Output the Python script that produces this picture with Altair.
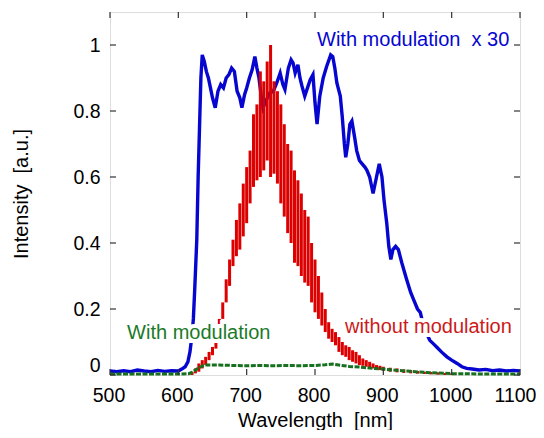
import altair as alt
import pandas as pd

# ---- data ----
BLUE_WL = [500, 510, 520, 530, 540, 550, 560, 570, 580, 590, 600, 605, 610, 614, 617, 620, 622, 624, 627, 629,
           631, 633, 635, 638, 641, 644, 647, 650, 654, 658, 662, 666, 670, 674, 678, 682, 686, 690, 693, 697,
           700, 704, 708, 712, 715, 718, 721, 724, 728, 734, 739, 744, 749, 753, 756, 761, 765, 768, 771, 775,
           778, 781, 785, 789, 793, 797, 800, 803, 807, 812, 817, 823, 826, 829, 832, 837, 840, 843, 845, 848,
           851, 854, 858, 861, 865, 869, 873, 876, 880, 885, 890, 894, 898, 901, 905, 908, 911, 914, 918, 922,
           927, 934, 940, 944, 950, 954, 960, 968, 973, 978, 985, 993, 1000, 1008, 1015, 1022, 1030, 1040, 1050,
           1060, 1070, 1080, 1090, 1100]
BLUE_I = [0.012, 0.010, 0.013, 0.010, 0.015, 0.012, 0.010, 0.014, 0.011, 0.013, 0.012, 0.018, 0.025, 0.040, 0.070,
          0.120, 0.170, 0.260, 0.410, 0.600, 0.750, 0.900, 0.970, 0.950, 0.920, 0.900, 0.870, 0.840, 0.810, 0.860,
          0.880, 0.870, 0.900, 0.910, 0.930, 0.920, 0.860, 0.840, 0.810, 0.850, 0.870, 0.900, 0.925, 0.965, 0.930,
          0.900, 0.850, 0.810, 0.830, 0.855, 0.860, 0.885, 0.915, 0.880, 0.865, 0.930, 0.955, 0.945, 0.915, 0.940,
          0.900, 0.875, 0.845, 0.870, 0.895, 0.910, 0.825, 0.760, 0.845, 0.900, 0.935, 0.970, 0.965, 0.930, 0.885,
          0.845, 0.780, 0.700, 0.660, 0.700, 0.760, 0.770, 0.720, 0.680, 0.650, 0.640, 0.630, 0.620, 0.600, 0.550,
          0.600, 0.640, 0.600, 0.530, 0.460, 0.390, 0.350, 0.380, 0.390, 0.380, 0.340, 0.290, 0.250, 0.230, 0.200,
          0.190, 0.140, 0.105, 0.095, 0.085, 0.070, 0.055, 0.045, 0.035, 0.025, 0.020, 0.018, 0.015, 0.017, 0.013,
          0.015, 0.012, 0.014, 0.012]

RED_WL = [620, 625, 630, 635, 640, 645, 650, 655, 660, 665, 670, 675, 680, 685, 690, 695, 700, 705, 710, 715,
          720, 725, 730, 735, 740, 745, 750, 755, 760, 765, 770, 775, 780, 785, 790, 795, 800, 805, 810, 815,
          820, 825, 830, 835, 840, 845, 850, 855, 860, 865, 870, 875, 880, 885, 890, 895, 900, 910, 920, 930,
          940, 950, 960, 970, 980, 990, 1000]
RED_LO = [0.000, 0.005, 0.010, 0.020, 0.030, 0.045, 0.060, 0.080, 0.120, 0.170, 0.220, 0.270, 0.330, 0.360, 0.380,
          0.420, 0.460, 0.520, 0.570, 0.590, 0.600, 0.620, 0.650, 0.600, 0.610, 0.580, 0.520, 0.480, 0.430, 0.400,
          0.340, 0.330, 0.300, 0.280, 0.270, 0.220, 0.190, 0.170, 0.150, 0.130, 0.110, 0.100, 0.090, 0.070, 0.060,
          0.055, 0.045, 0.040, 0.035, 0.030, 0.028, 0.025, 0.022, 0.020, 0.018, 0.015, 0.013, 0.010, 0.008, 0.006,
          0.005, 0.004, 0.003, 0.002, 0.001, 0.000, 0.000]
RED_HI = [0.010, 0.020, 0.035, 0.045, 0.055, 0.070, 0.085, 0.110, 0.170, 0.220, 0.290, 0.350, 0.410, 0.470, 0.520,
          0.580, 0.630, 0.680, 0.790, 0.820, 0.920, 0.890, 0.950, 1.000, 0.890, 0.860, 0.820, 0.760, 0.700, 0.680,
          0.620, 0.590, 0.550, 0.500, 0.480, 0.400, 0.350, 0.300, 0.250, 0.200, 0.160, 0.140, 0.130, 0.115, 0.100,
          0.090, 0.085, 0.075, 0.070, 0.060, 0.050, 0.045, 0.040, 0.035, 0.030, 0.028, 0.025, 0.022, 0.020, 0.017,
          0.015, 0.012, 0.010, 0.009, 0.008, 0.006, 0.005]

GREEN_WL = [500, 550, 600, 615, 620, 625, 630, 635, 640, 660, 680, 700, 720, 740, 760, 780, 800, 815, 825, 835,
            850, 865, 880, 900, 920, 940, 960, 980, 1000, 1050, 1100]
GREEN_I = [0.003, 0.003, 0.003, 0.004, 0.008, 0.015, 0.022, 0.027, 0.030, 0.030, 0.029, 0.028, 0.029, 0.028, 0.029,
           0.028, 0.029, 0.031, 0.033, 0.030, 0.026, 0.024, 0.021, 0.018, 0.014, 0.011, 0.008, 0.006, 0.004, 0.003,
           0.003]

X_TICKS = [500, 600, 700, 800, 900, 1000, 1100]
Y_TICKS = [0, 0.2, 0.4, 0.6, 0.8, 1.0]

# ---- chart ----
FONT = "Liberation Sans"
BLUE = "#0606d0"
RED = "#dd0000"
GREEN = "#17701f"

xs = alt.Scale(domain=[500, 1100], nice=False, zero=False)
ys = alt.Scale(domain=[0, 1.1], nice=False)

x_axis = alt.Axis(values=X_TICKS, ticks=False, domain=False, grid=False, labelFontSize=19.5, format="d",
                  labelPadding=11, title="Wavelength\u00a0 [nm]", titleFontSize=20, titleFontWeight="normal",
                  titlePadding=6, labelFlush=False,
                  labelOffset={"condition": {"test": "datum.value == 1100", "value": -5},
                               "value": -1.5},
                  labelColor="black", titleColor="black")
y_axis = alt.Axis(values=Y_TICKS, ticks=False, domain=False, grid=False, labelFontSize=19.5, format="~g",
                  labelPadding=10, title="Intensity\u00a0 [a.u.]", titleFontSize=20, titleFontWeight="normal",
                  titlePadding=41, labelFlush=True, labelColor="black", titleColor="black")

blue_df = pd.DataFrame({"wl": BLUE_WL, "v": BLUE_I})
red_df = pd.DataFrame({"wl": RED_WL, "lo": RED_LO, "hi": RED_HI})
green_df = pd.DataFrame({"wl": GREEN_WL, "v": GREEN_I})
xt_df = pd.DataFrame({"t": X_TICKS})
yt_df = pd.DataFrame({"t": Y_TICKS})

blue = alt.Chart(blue_df).mark_line(color=BLUE, strokeWidth=3.4).encode(
    x=alt.X("wl:Q", scale=xs, axis=x_axis),
    y=alt.Y("v:Q", scale=ys, axis=y_axis),
)
red = alt.Chart(red_df).mark_rule(color=RED, strokeWidth=3).encode(
    x=alt.X("wl:Q", scale=xs), y=alt.Y("lo:Q", scale=ys), y2="hi:Q"
)
green = alt.Chart(green_df).mark_line(color=GREEN, strokeWidth=3, strokeDash=[5, 1.5]).encode(
    x=alt.X("wl:Q", scale=xs), y=alt.Y("v:Q", scale=ys)
)

labels_df = pd.DataFrame({
    "text": ["With modulation\u00a0 x 30", "With modulation", "without modulation"],
    "wl": [803, 525, 844],
    "v": [1.015, 0.127, 0.145],
    "c": [BLUE, "#1a7a28", "#cc1a1a"],
})
halo = alt.Chart(labels_df).mark_text(align="left", baseline="middle", font=FONT, fontSize=20,
                                      stroke="white", strokeWidth=8, fill="white").encode(
    x=alt.X("wl:Q", scale=xs), y=alt.Y("v:Q", scale=ys), text="text:N"
)
text = alt.Chart(labels_df).mark_text(align="left", baseline="middle", font=FONT, fontSize=20).encode(
    x=alt.X("wl:Q", scale=xs), y=alt.Y("v:Q", scale=ys), text="text:N",
    color=alt.Color("c:N", scale=None)
)

# inward ticks on all four sides
tick_style = dict(color="#333333", strokeWidth=1.2)
t_bottom = alt.Chart(xt_df).mark_rule(**tick_style).encode(
    x=alt.X("t:Q", scale=xs), y=alt.datum(0, scale=ys), y2=alt.datum(0.018))
t_top = alt.Chart(xt_df).mark_rule(**tick_style).encode(
    x=alt.X("t:Q", scale=xs), y=alt.datum(1.1, scale=ys), y2=alt.datum(1.082))
t_left = alt.Chart(yt_df).mark_rule(**tick_style).encode(
    y=alt.Y("t:Q", scale=ys), x=alt.datum(500, scale=xs), x2=alt.datum(508.8))
t_right = alt.Chart(yt_df).mark_rule(**tick_style).encode(
    y=alt.Y("t:Q", scale=ys), x=alt.datum(1100, scale=xs), x2=alt.datum(1091.2))

chart = alt.layer(blue, red, green, halo, text, t_bottom, t_top, t_left, t_right).properties(
    width=410, height=363,
    padding={"left": 102, "top": 4, "right": 16, "bottom": 55},
    autosize=alt.AutoSizeParams(type="none"),
).configure_view(stroke="#333333", strokeWidth=1.2).configure_axis(
    labelFont=FONT, titleFont=FONT
).configure(background="white")

chart.save("out.html", embed_options={"renderer": "svg", "actions": False})
